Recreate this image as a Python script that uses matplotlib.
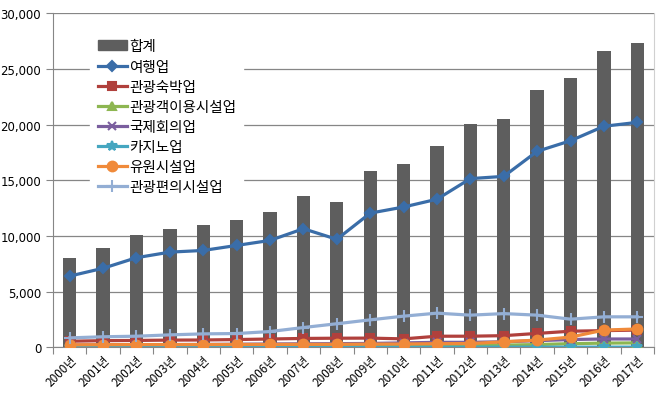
import numpy as np
import matplotlib
matplotlib.use('Agg')
import matplotlib.pyplot as plt
from matplotlib.patches import Patch
from matplotlib.lines import Line2D

plt.rcParams['font.family'] = ['Noto Sans CJK KR', 'DejaVu Sans']

years = [f'{y}년' for y in range(2000, 2018)]

# 합계 (bars)
total = [8000, 8900, 10100, 10650, 10950, 11450, 12150, 13600, 13050,
         15800, 16500, 18100, 20050, 20500, 23100, 24200, 26650, 27300]

# line series
travel = [6400, 7100, 8050, 8550, 8700, 9150, 9600, 10650, 9700,
          12050, 12600, 13300, 15150, 15350, 17600, 18550, 19850, 20200]
lodging = [550, 600, 620, 650, 660, 700, 750, 800, 820,
           830, 760, 1000, 1000, 1050, 1250, 1450, 1500, 1550]
visitor_fac = [80, 90, 90, 100, 100, 110, 110, 120, 120,
               130, 140, 150, 180, 200, 250, 330, 380, 400]
conference = [200, 220, 230, 250, 260, 280, 300, 320, 330,
              350, 400, 450, 450, 500, 600, 700, 750, 750]
casino = [10, 10, 10, 10, 10, 10, 20, 20, 20,
          20, 20, 20, 20, 20, 20, 20, 20, 20]
amusement = [230, 240, 250, 250, 250, 260, 260, 270, 270,
             290, 300, 330, 340, 500, 650, 920, 1550, 1650]
convenience = [850, 950, 1000, 1120, 1210, 1240, 1420, 1780, 2120,
               2470, 2800, 3070, 2890, 3030, 2890, 2530, 2740, 2740]

series = [
    ('여행업', travel, '#3A6DA8', 'D', 5),
    ('관광숙박업', lodging, '#B0403C', 's', 6),
    ('관광객이용시설업', visitor_fac, '#8DB651', '^', 6),
    ('국제회의업', conference, '#7A5E9E', 'x', 6),
    ('카지노업', casino, '#45A6C0', '*', 7),
    ('유원시설업', amusement, '#F08A3A', 'o', 7),
    ('관광편의시설업', convenience, '#93AED4', '+', 9),
]

fig = plt.figure(figsize=(6.66, 4.06), dpi=100)
ax = fig.add_axes([0.0796, 0.142, 0.9024, 0.823])

x = np.arange(len(years))
ax.bar(x, total, width=0.4, color='#5E5E5E', zorder=2)

handles = [Patch(color='#5E5E5E', label='합계')]
for name, vals, col, mk, ms in series:
    ax.plot(x, vals, color=col, lw=2.3, marker=mk, ms=ms, mew=1.5,
            mfc=col, mec=col, zorder=3)
    handles.append(Line2D([0], [0], color=col, lw=2.3, marker=mk, ms=ms,
                          mew=1.5, mfc=col, mec=col, label=name))

ax.set_xlim(-0.5, len(years) - 0.5)
ax.set_ylim(0, 30000)
ax.set_yticks(range(0, 30001, 5000))
ax.set_yticklabels([f'{v:,}' for v in range(0, 30001, 5000)],
                   fontsize=8.5, family='DejaVu Sans')
ax.yaxis.grid(True, color='#868686', lw=0.9, zorder=0)

ax.set_xticks(np.arange(-0.5, len(years), 1.0))
ax.set_xticklabels([])
ax.tick_params(axis='x', which='major', length=5, color='#868686', direction='out')
ax.set_xticks(x, minor=True)
ax.set_xticklabels(years, minor=True, rotation=45, ha='right',
                   rotation_mode='anchor', fontsize=8.5)
ax.tick_params(axis='x', which='minor', length=0, pad=4)
ax.tick_params(axis='y', length=5, color='#868686')

ax.spines['top'].set_visible(False)
ax.spines['left'].set_color('#868686')
ax.spines['bottom'].set_color('#868686')
ax.spines['right'].set_color('#d0d0d0')

leg = ax.legend(handles=handles, loc='upper left',
                bbox_to_anchor=(0.05, 0.965), fontsize=10.5,
                frameon=True, fancybox=False, framealpha=1,
                edgecolor='white', facecolor='white',
                handlelength=2.0, handletextpad=0.15, labelspacing=0.42,
                borderpad=0.5)
leg.set_zorder(5)

fig.savefig('out.png', dpi=100)
